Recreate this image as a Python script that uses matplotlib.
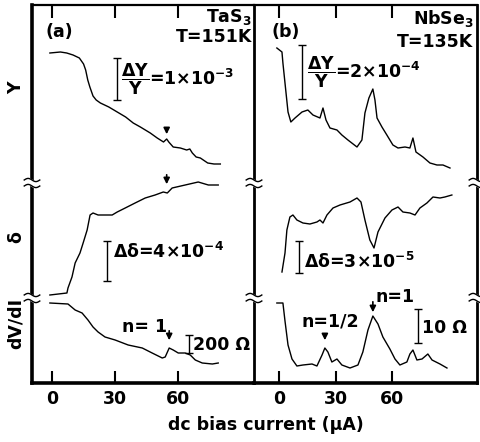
import matplotlib
matplotlib.use("Agg")
import matplotlib.pyplot as plt
import numpy as np

plt.rcParams['font.family'] = ['DejaVu Sans']
plt.rcParams['font.weight'] = 'bold'
plt.rcParams['mathtext.fontset'] = 'custom'
plt.rcParams['mathtext.rm'] = 'DejaVu Sans:bold'
plt.rcParams['mathtext.it'] = 'DejaVu Sans:bold'
plt.rcParams['mathtext.bf'] = 'DejaVu Sans:bold'

# traces (x in uA, y in arbitrary height units, 0 = bottom of frame)
# panel (a) TaS3
a_y_x = [-1, 4, 7, 10, 13, 15, 16, 17, 18, 19.5, 21, 23, 27, 31, 35, 38.6, 42, 46.7, 50,
         53, 54.5, 55.5, 57.6, 61, 64, 65.5, 66.7, 68.5, 70.5, 74, 77, 80]
a_y_v = [330, 331, 330, 328, 325, 319, 313, 303, 296, 287, 283, 280, 276, 271, 266, 260, 256,
         250, 245, 241, 244, 241, 236, 235, 233, 234, 230, 226, 225, 220, 219, 219]
a_d_x = [-1, 7.1, 7.6, 9.5, 11, 13.3, 14.8, 16.7, 18.1, 19.5, 21.9, 28.6, 31, 34.8, 39.5,
         44.3, 49, 52.9, 54.8, 57.1, 63.3, 69.5, 74.3, 79]
a_d_v = [88, 90, 95, 106, 120, 130, 140, 153, 168, 170, 168, 168, 171, 175, 180,
         185, 188, 191, 190, 195, 198, 201, 198, 198]
a_r_x = [-1, 7.6, 11, 14.3, 17.1, 19.5, 21.9, 25.2, 30, 36.2, 42.9, 47.6, 52.4, 53.8,
         55.7, 57.6, 60, 63.3, 65.7, 68.1, 71.4, 76.2, 79]
a_r_v = [80, 79, 73, 70, 63, 56, 51, 46, 43, 38, 35, 30, 25, 26,
         35, 33, 30, 30, 28, 23, 20, 19, 20]

# panel (b) NbSe3
b_y_x = [-1.1, 1.6, 2.1, 3.2, 4.8, 6.3, 8.5, 12.2, 15.3, 18.0, 21.7, 23.3, 24.9, 27.0, 30.7,
         33.3, 36.5, 41.3, 43.9, 45.5, 47.6, 49.7, 50.8, 51.9, 54.5, 57.1, 60.3, 63.0, 66.7,
         69.3, 70.9, 72.5, 76.2, 79.9, 83.6, 86.8, 90.5]
b_y_v = [335, 331, 320, 300, 271, 261, 265, 271, 273, 268, 265, 275, 263, 255, 253,
         248, 243, 236, 243, 270, 285, 294, 283, 265, 256, 248, 238, 235, 236,
         235, 245, 231, 226, 220, 218, 218, 215]
b_d_x = [1.6, 3.2, 4.2, 5.8, 7.4, 9.5, 12.7, 16.4, 20.1, 21.7, 23.3, 25.4, 28.6, 32.3, 37.6,
         41.3, 43.4, 45.5, 48.1, 50.3, 52.4, 56.1, 59.8, 63, 65.6, 69.3, 72, 74.6, 78.3,
         81.5, 85.2, 87.8, 91.5]
b_d_v = [111, 130, 153, 166, 168, 163, 160, 159, 161, 163, 160, 168, 175, 178, 181,
         185, 181, 163, 143, 135, 151, 165, 173, 176, 171, 170, 168, 175, 180,
         186, 185, 186, 188]
b_r_x = [-1.1, 2.1, 3.2, 4.8, 6.9, 9.5, 12.7, 17.5, 20.1, 22.8, 24.3, 25.9, 28, 30.7, 33.3,
         37.6, 41.8, 44.4, 47.1, 49.7, 52.4, 55, 58.7, 61.4, 64, 67.7, 69.3, 70.9, 73,
         75.7, 78.8, 81, 85.2, 88.9]
b_r_v = [80, 80, 62, 38, 24, 17, 18, 19, 17, 28, 35, 31, 21, 24, 18,
         15, 18, 31, 53, 67, 59, 46, 34, 24, 18, 21, 29, 33, 23,
         24, 29, 23, 19, 15]

ticks = [0, 30, 60]
breaks = [200, 85]

fig = plt.figure(figsize=(4.8, 4.42), dpi=100)
axa = fig.add_axes([32 / 480, 59 / 442, 222 / 480, 378 / 442])
axb = fig.add_axes([254 / 480, 59 / 442, 223 / 480, 378 / 442])
axa.set_xlim(-9.5, 96)
axb.set_xlim(-13.2, 104.8)

fs = 12.5
lw = 1.0
axa.plot(a_y_x, a_y_v, color='black', lw=lw)
axa.plot(a_d_x, a_d_v, color='black', lw=lw)
axa.plot(a_r_x, a_r_v, color='black', lw=lw)
axb.plot(b_y_x, b_y_v, color='black', lw=lw)
axb.plot(b_d_x, b_d_v, color='black', lw=lw)
axb.plot(b_r_x, b_r_v, color='black', lw=lw)

for ax in (axa, axb):
    ax.set_ylim(0, 378)
    ax.set_xticks(ticks)
    ax.set_xticklabels([str(t) for t in ticks], fontsize=fs, fontweight='bold')
    ax.set_yticks([])
    ax.tick_params(axis='x', direction='in', length=9, width=1.5, top=True, pad=5)
    for s in ax.spines.values():
        s.set_linewidth(1.6)
    ax.spines['bottom'].set_linewidth(2.6)

axa.spines['left'].set_linewidth(2.6)
axa.spines['right'].set_visible(False)
axb.spines['left'].set_linewidth(2.0)
axb.spines['right'].set_linewidth(2.0)


def axis_break(ax, xpos, y):
    tr = ax.get_yaxis_transform()
    t = np.linspace(-0.035, 0.035, 20)
    w = 1.6 * np.sin((t + 0.035) / 0.07 * 2 * np.pi)
    ax.fill_between(xpos + t, y - 3 + w, y + 3 + w, color='white', transform=tr,
                    clip_on=False, zorder=5)
    ax.plot(xpos + t, y - 3 + w, color='black', lw=1.0, transform=tr, clip_on=False, zorder=6)
    ax.plot(xpos + t, y + 3 + w, color='black', lw=1.0, transform=tr, clip_on=False, zorder=6)


for y in breaks:
    axis_break(axa, 0.0, y)
    axis_break(axb, 0.0, y)
    axis_break(axb, 1.0, y)

arrow = dict(arrowstyle='-|>', color='black', lw=1.2, mutation_scale=9)

# panel (a) annotations
axa.text(-3, 351, '(a)', fontsize=fs, va='center')
axa.text(95, 366, 'TaS$_3$', fontsize=fs, ha='right', va='center')
axa.text(95, 346, 'T=151K', fontsize=fs, ha='right', va='center')
axa.errorbar([31], [304], yerr=[[21], [21]], color='black', lw=1, capsize=3)
axa.text(33, 304, r'$\dfrac{\Delta Y}{Y}$=1×10$^{-3}$', fontsize=fs, va='center')
axa.annotate('', xy=(54.5, 246), xytext=(54.5, 258), arrowprops=arrow)
axa.annotate('', xy=(54.5, 196), xytext=(54.5, 211), arrowprops=arrow)
axa.errorbar([26], [122], yerr=[[20], [20]], color='black', lw=1, capsize=3)
axa.text(29, 131, 'Δδ=4×10$^{-4}$', fontsize=fs, va='center')
axa.text(54.5, 56, 'n= 1', fontsize=fs, va='center', ha='right')
axa.annotate('', xy=(55.7, 40), xytext=(55.7, 55), arrowprops=arrow)
axa.errorbar([65.2], [39], yerr=[[9], [9]], color='black', lw=1, capsize=3)
axa.text(67, 38, '200 Ω', fontsize=fs, va='center')
axa.text(-17, 295, 'Y', fontsize=fs, rotation=90, va='center', ha='center')
axa.text(-17, 146, 'δ', fontsize=fs, rotation=90, va='center', ha='center')
axa.text(-17, 60, 'dV/dI', fontsize=fs, rotation=90, va='center', ha='center')

# panel (b) annotations
axb.text(-4, 351, '(b)', fontsize=fs, va='center')
axb.text(103, 365, 'NbSe$_3$', fontsize=fs, ha='right', va='center')
axb.text(103, 341, 'T=135K', fontsize=fs, ha='right', va='center')
axb.errorbar([12.2], [311], yerr=[[27], [27]], color='black', lw=1, capsize=3)
axb.text(15, 311, r'$\dfrac{\Delta Y}{Y}$=2×10$^{-4}$', fontsize=fs, va='center')
axb.errorbar([10.6], [126], yerr=[[16], [16]], color='black', lw=1, capsize=3)
axb.text(13.5, 121, 'Δδ=3×10$^{-5}$', fontsize=fs, va='center')
axb.text(12, 61, 'n=1/2', fontsize=fs, va='center')
axb.annotate('', xy=(24.3, 40), xytext=(24.3, 52), arrowprops=arrow)
axb.text(51, 86, 'n=1', fontsize=fs, va='center')
axb.annotate('', xy=(49.7, 68), xytext=(49.7, 84), arrowprops=arrow)
axb.errorbar([73.5], [57], yerr=[[17], [17]], color='black', lw=1, capsize=3)
axb.text(75.5, 55, '10 Ω', fontsize=fs, va='center')

fig.text(266 / 480, 17 / 442, 'dc bias current (μA)', fontsize=fs, ha='center', va='center')

fig.savefig('out.png', dpi=100)
